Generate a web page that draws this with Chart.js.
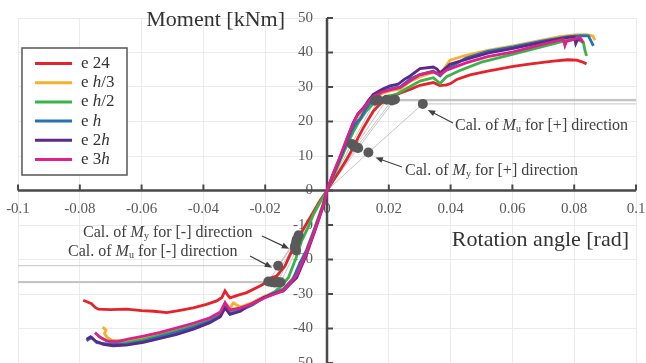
<!DOCTYPE html>
<html>
<head>
<meta charset="utf-8">
<script src="https://cdn.jsdelivr.net/npm/chart.js@4.4.1/dist/chart.umd.min.js"></script>
<style>
  html, body { margin: 0; padding: 0; background: #fff; }
  canvas { display: block; }
</style>
</head>
<body>
<canvas id="chart" width="646" height="363"></canvas>
<script>
// series: label parts ([text, italic?]) and colours
const seriesLabels = [
  [["e 24", false]],
  [["e ", false], ["h", true], ["/3", false]],
  [["e ", false], ["h", true], ["/2", false]],
  [["e ", false], ["h", true]],
  [["e 2", false], ["h", true]],
  [["e 3", false], ["h", true]],
];
const seriesColors = ["#e4232a", "#f5b02e", "#3bb34a", "#2471b5", "#5a2a8a", "#e0208a"];

// rotation angle [rad], moment [kNm]
const e24 = [
  [-0.0789, -31.8], [-0.0775, -32.3], [-0.0762, -32.8], [-0.0750, -33.9], [-0.0740, -34.4],
  [-0.0700, -34.5], [-0.0648, -34.4], [-0.0600, -34.8], [-0.0560, -35.0], [-0.0519, -35.4],
  [-0.0480, -34.8], [-0.0433, -34.0], [-0.0390, -33.0], [-0.0357, -32.0], [-0.0340, -31.0],
  [-0.0330, -29.1], [-0.0320, -30.5], [-0.0314, -31.1], [-0.0290, -30.4], [-0.0260, -29.6],
  [-0.0217, -27.7], [-0.0200, -26.8], [-0.0195, -25.7], [-0.0163, -24.8], [-0.0136, -21.9],
  [-0.0114, -17.5], [-0.0087, -12.7], [-0.0055, -7.9], [-0.0023, -3.0], [0, 0],
  [0.0020, 2.8], [0.0042, 5.9], [0.0065, 9.2], [0.0085, 12.4], [0.0100, 15.2],
  [0.0118, 18.2], [0.0135, 20.8], [0.0150, 23.0], [0.0170, 24.9], [0.0193, 26.4],
  [0.0215, 27.5], [0.0236, 28.2], [0.0269, 29.3], [0.0301, 30.5], [0.0344, 31.3],
  [0.0365, 30.4], [0.0387, 30.6], [0.0400, 31.0], [0.0420, 32.2], [0.0463, 33.5],
  [0.0520, 34.6], [0.0603, 36.0], [0.0660, 36.7], [0.0732, 37.5], [0.0780, 37.9],
  [0.0808, 37.8], [0.0825, 37.3], [0.0840, 36.7],
];
const eH3 = [
  [-0.0726, -39.6], [-0.0715, -40.5], [-0.0720, -41.5], [-0.0712, -42.5], [-0.0697, -43.4],
  [-0.0660, -43.6], [-0.0600, -43.0], [-0.0540, -41.8], [-0.0486, -40.6], [-0.0430, -39.0],
  [-0.0379, -37.4], [-0.0345, -35.8], [-0.0330, -33.2], [-0.0318, -34.6], [-0.0303, -32.6],
  [-0.0280, -33.8], [-0.0240, -32.4], [-0.0206, -30.8], [-0.0170, -29.4], [-0.0141, -28.4],
  [-0.0115, -26.0], [-0.0098, -23.8], [-0.0070, -18.3], [-0.0042, -11.5], [-0.0015, -4.5],
  [0, 0],
  [0.0020, 4.2], [0.0042, 8.8], [0.0065, 13.6], [0.0085, 17.6], [0.0105, 21.0],
  [0.0125, 23.8], [0.0150, 26.6], [0.0180, 28.2], [0.0210, 29.0], [0.0236, 29.4],
  [0.0269, 31.6], [0.0301, 33.0], [0.0344, 34.2], [0.0362, 33.8], [0.0375, 34.8],
  [0.0398, 37.8], [0.0450, 39.2], [0.0520, 40.6], [0.0603, 41.9], [0.0680, 43.3],
  [0.0754, 44.6], [0.0800, 45.1], [0.0840, 45.2], [0.0860, 44.8], [0.0867, 43.6],
];
const eH2 = [
  [-0.0740, -42.2], [-0.0725, -43.0], [-0.0700, -44.0], [-0.0650, -44.2], [-0.0594, -43.2],
  [-0.0540, -42.0], [-0.0486, -40.7], [-0.0430, -39.2], [-0.0379, -37.6], [-0.0345, -36.0],
  [-0.0330, -33.4], [-0.0314, -35.2], [-0.0280, -34.3], [-0.0240, -32.9], [-0.0206, -31.2],
  [-0.0170, -29.4], [-0.0150, -27.8], [-0.0125, -25.3], [-0.0100, -19.5], [-0.0082, -14.6],
  [-0.0060, -10.5], [-0.0044, -6.9], [-0.0020, -3.0], [0, 0],
  [0.0020, 4.0], [0.0042, 8.6], [0.0065, 13.2], [0.0085, 17.0], [0.0105, 20.2],
  [0.0125, 22.8], [0.0150, 25.3], [0.0180, 26.8], [0.0200, 27.4], [0.0225, 27.9],
  [0.0250, 29.2], [0.0301, 31.7], [0.0344, 32.7], [0.0366, 31.0], [0.0387, 33.0],
  [0.0430, 34.8], [0.0500, 37.2], [0.0603, 39.5], [0.0700, 41.8], [0.0776, 43.5],
  [0.0810, 43.9], [0.0830, 42.8], [0.0835, 40.5], [0.0840, 39.0],
];
const eH = [
  [-0.0778, -43.6], [-0.0770, -43.0], [-0.0760, -42.7], [-0.0745, -44.1], [-0.0700, -44.6],
  [-0.0650, -44.6], [-0.0594, -43.7], [-0.0540, -42.4], [-0.0486, -41.1], [-0.0430, -39.6],
  [-0.0379, -37.9], [-0.0345, -36.3], [-0.0330, -33.8], [-0.0314, -35.8], [-0.0280, -34.8],
  [-0.0240, -33.1], [-0.0206, -31.1], [-0.0170, -29.7], [-0.0141, -28.6], [-0.0110, -25.6],
  [-0.0090, -21.5], [-0.0066, -17.2], [-0.0040, -11.0], [-0.0014, -4.5], [0, 0],
  [0.0020, 4.6], [0.0042, 9.2], [0.0065, 14.2], [0.0085, 18.3], [0.0100, 20.2],
  [0.0107, 20.6], [0.0125, 23.6], [0.0150, 26.8], [0.0180, 28.8], [0.0210, 29.6],
  [0.0236, 30.0], [0.0269, 32.3], [0.0301, 33.6], [0.0344, 34.6], [0.0366, 33.2],
  [0.0387, 35.2], [0.0450, 38.4], [0.0520, 40.3], [0.0603, 41.6], [0.0700, 43.4],
  [0.0776, 44.5], [0.0820, 44.9], [0.0846, 44.8], [0.0855, 43.2], [0.0862, 41.9],
];
const e2H = [
  [-0.0778, -43.1], [-0.0765, -42.4], [-0.0750, -43.6], [-0.0724, -44.6], [-0.0692, -45.0],
  [-0.0650, -44.8], [-0.0594, -44.0], [-0.0540, -42.9], [-0.0486, -41.7], [-0.0430, -40.1],
  [-0.0379, -38.3], [-0.0345, -36.6], [-0.0330, -34.0], [-0.0314, -35.9], [-0.0280, -35.0],
  [-0.0260, -33.6], [-0.0206, -31.1], [-0.0170, -29.9], [-0.0141, -29.1], [-0.0120, -27.2],
  [-0.0098, -25.3], [-0.0066, -18.5], [-0.0039, -11.7], [-0.0012, -4.5], [0, 0],
  [0.0020, 4.8], [0.0042, 9.5], [0.0065, 15.0], [0.0085, 19.7], [0.0100, 22.2],
  [0.0118, 24.0], [0.0135, 26.2], [0.0150, 27.9], [0.0180, 29.4], [0.0204, 30.3],
  [0.0230, 30.8], [0.0250, 32.2], [0.0269, 33.2], [0.0301, 35.3], [0.0344, 35.8],
  [0.0356, 35.2], [0.0366, 34.1], [0.0385, 35.6], [0.0398, 36.6], [0.0450, 38.0],
  [0.0520, 39.8], [0.0603, 41.2], [0.0700, 43.0], [0.0776, 44.3], [0.0800, 44.5],
  [0.0805, 42.6], [0.0812, 44.0], [0.0825, 43.6],
];
const e3H = [
  [-0.0751, -41.2], [-0.0735, -42.5], [-0.0713, -43.6], [-0.0680, -43.8], [-0.0640, -43.0],
  [-0.0594, -42.2], [-0.0540, -41.1], [-0.0486, -39.8], [-0.0430, -38.4], [-0.0379, -36.9],
  [-0.0345, -35.2], [-0.0330, -32.5], [-0.0314, -34.6], [-0.0280, -34.0], [-0.0240, -32.8],
  [-0.0206, -31.3], [-0.0170, -30.0], [-0.0141, -28.9], [-0.0120, -27.0], [-0.0098, -24.6],
  [-0.0066, -18.0], [-0.0039, -11.3], [-0.0012, -4.3], [0, 0],
  [0.0020, 4.9], [0.0042, 9.8], [0.0065, 15.2], [0.0085, 19.6], [0.0100, 22.0],
  [0.0118, 23.8], [0.0135, 25.8], [0.0150, 27.3], [0.0180, 28.6], [0.0210, 29.3],
  [0.0236, 29.8], [0.0269, 31.8], [0.0301, 33.6], [0.0344, 34.4], [0.0366, 33.6],
  [0.0387, 34.9], [0.0450, 37.0], [0.0520, 38.8], [0.0603, 40.2], [0.0700, 42.4],
  [0.0765, 43.8], [0.0770, 42.0], [0.0775, 43.2], [0.0819, 44.3], [0.0830, 42.8],
];
const curves = [e24, eH3, eH2, eH, e2H, e3H];

// calculated yield / ultimate points, same series order
const myPos = [[0.0134, 11.0], [0.0080, 13.5], [0.0086, 13.0], [0.0091, 12.7], [0.0096, 12.5], [0.0101, 12.3]];
const muPos = [[0.0310, 25.1], [0.0155, 26.0], [0.0166, 26.2], [0.0193, 26.3], [0.0210, 26.1], [0.0220, 26.4]];
const myNeg = [[-0.0092, -13.0], [-0.0098, -14.2], [-0.0100, -15.0], [-0.0103, -16.0], [-0.0104, -16.6], [-0.0100, -17.4]];
const muNeg = [[-0.0158, -21.8], [-0.0190, -26.4], [-0.0178, -26.6], [-0.0168, -26.7], [-0.0160, -26.5], [-0.0150, -26.6]];

const xMin = -0.1, xMax = 0.1;
const yMin = -50, yMax = 50;
const xTickValues = [-0.1, -0.08, -0.06, -0.04, -0.02, 0, 0.02, 0.04, 0.06, 0.08, 0.1];
const xTickLabels = ["-0.1", "-0.08", "-0.06", "-0.04", "-0.02", "0", "0.02", "0.04", "0.06", "0.08", "0.1"];
const yTickValues = [-50, -40, -30, -20, -10, 0, 10, 20, 30, 40, 50];
const yTickLabels = ["-50", "-40", "-30", "-20", "-10", "0", "10", "20", "30", "40", "50"];

const SERIF = '"Liberation Serif", "DejaVu Serif", serif';
const toXY = (pts) => pts.map(([x, y]) => ({ x, y }));

function drawRuns(ctx, x, y, runs) {
  for (const r of runs) {
    ctx.font = r.font;
    ctx.fillText(r.t, x, y + (r.dy || 0));
    x += ctx.measureText(r.t).width;
  }
}

function calRuns(sub, dir) {
  return [
    { t: "Cal. of ", font: `16px ${SERIF}` },
    { t: "M", font: `italic 16px ${SERIF}` },
    { t: sub, font: `10px ${SERIF}`, dy: 3 },
    { t: ` for [${dir}] direction`, font: `16px ${SERIF}` },
  ];
}

function arrow(ctx, x1, y1, x2, y2) {
  const ang = Math.atan2(y2 - y1, x2 - x1);
  ctx.beginPath();
  ctx.moveTo(x1, y1);
  ctx.lineTo(x2 - 5 * Math.cos(ang), y2 - 5 * Math.sin(ang));
  ctx.stroke();
  ctx.beginPath();
  ctx.moveTo(x2, y2);
  ctx.lineTo(x2 - 8 * Math.cos(ang - 0.38), y2 - 8 * Math.sin(ang - 0.38));
  ctx.lineTo(x2 - 8 * Math.cos(ang + 0.38), y2 - 8 * Math.sin(ang + 0.38));
  ctx.closePath();
  ctx.fill();
}

const crossAxes = {
  id: "crossAxes",
  beforeDatasetsDraw(chart) {
    const { ctx, chartArea: a, scales: { x, y } } = chart;
    const x0 = x.getPixelForValue(0);
    const y0 = y.getPixelForValue(0);
    ctx.save();
    // tick labels
    ctx.fillStyle = "#595959";
    ctx.font = `15px ${SERIF}`;
    ctx.textAlign = "center";
    ctx.textBaseline = "middle";
    x.ticks.forEach((t, i) => ctx.fillText(xTickLabels[i], x.getPixelForValue(t.value), y0 + 19));
    ctx.textAlign = "right";
    y.ticks.forEach((t, i) => ctx.fillText(yTickLabels[i], x0 - 14, y.getPixelForValue(t.value)));
    // axis lines and inner ticks
    ctx.strokeStyle = "#4a4a4a";
    ctx.lineWidth = 2.5;
    ctx.beginPath();
    ctx.moveTo(a.left, y0);
    ctx.lineTo(a.right, y0);
    ctx.moveTo(x0, a.top);
    ctx.lineTo(x0, a.bottom);
    ctx.stroke();
    ctx.lineWidth = 2;
    ctx.beginPath();
    x.ticks.forEach((t) => {
      const px = x.getPixelForValue(t.value);
      ctx.moveTo(px, y0);
      ctx.lineTo(px, y0 - 6);
    });
    y.ticks.forEach((t) => {
      const py = y.getPixelForValue(t.value);
      ctx.moveTo(x0, py);
      ctx.lineTo(x0 + 6, py);
    });
    ctx.stroke();
    ctx.restore();
  },
  afterDatasetsDraw(chart) {
    const { ctx, scales: { x, y } } = chart;
    ctx.save();
    // axis titles
    ctx.fillStyle = "#333";
    ctx.font = `22px ${SERIF}`;
    ctx.textAlign = "right";
    ctx.textBaseline = "middle";
    ctx.fillText("Moment [kNm]", 285, 20);
    ctx.fillText("Rotation angle [rad]", 629, 240);

    // annotations
    ctx.textAlign = "left";
    ctx.fillStyle = "#404040";
    ctx.strokeStyle = "#404040";
    ctx.lineWidth = 1.2;
    drawRuns(ctx, 455, 126, calRuns("u", "+"));
    drawRuns(ctx, 405, 171, calRuns("y", "+"));
    drawRuns(ctx, 83, 233, calRuns("y", "-"));
    drawRuns(ctx, 68, 252, calRuns("u", "-"));
    const px = (p) => [x.getPixelForValue(p[0]), y.getPixelForValue(p[1])];
    let [tx, ty] = px(muPos[0]);
    arrow(ctx, 453, 123, tx + 5, ty + 6);
    [tx, ty] = px(myPos[0]);
    arrow(ctx, 402, 167, tx + 7, ty + 5);
    [tx, ty] = px(myNeg[3]);
    arrow(ctx, 262, 236, tx - 6, ty + 3);
    [tx, ty] = px(muNeg[0]);
    arrow(ctx, 250, 256, tx - 6, ty + 2);

    // legend
    ctx.fillStyle = "#fff";
    ctx.fillRect(22, 48, 105, 127);
    ctx.strokeStyle = "#555";
    ctx.lineWidth = 1.5;
    ctx.strokeRect(22, 48, 105, 127);
    ctx.textBaseline = "middle";
    seriesLabels.forEach((parts, i) => {
      const ry = 63.5 + i * 19.2;
      ctx.strokeStyle = seriesColors[i];
      ctx.lineWidth = 3;
      ctx.beginPath();
      ctx.moveTo(35, ry);
      ctx.lineTo(72, ry);
      ctx.stroke();
      ctx.fillStyle = "#333";
      drawRuns(ctx, 81, ry, parts.map(([t, it]) => ({ t, font: `${it ? "italic " : ""}17px ${SERIF}` })));
    });
    ctx.restore();
  },
};

const datasets = [];
curves.forEach((pts, i) => {
  datasets.push({
    data: toXY(pts),
    borderColor: seriesColors[i],
    borderWidth: 2.8,
    order: 6 - i,
  });
});
for (let i = 0; i < 6; i++) {
  datasets.push({
    data: toXY([[0, 0], myPos[i], muPos[i], [xMax, muPos[i][1]]]),
    borderColor: "#c4c4c4",
    borderWidth: 1,
    order: 20,
  });
  datasets.push({
    data: toXY([[0, 0], myNeg[i], muNeg[i], [xMin, muNeg[i][1]]]),
    borderColor: "#c4c4c4",
    borderWidth: 1,
    order: 20,
  });
}
datasets.push({
  data: toXY([...myPos, ...muPos, ...myNeg, ...muNeg]),
  showLine: false,
  pointRadius: 5,
  pointBackgroundColor: "#5a5a5a",
  pointBorderWidth: 0,
  order: 0,
});

new Chart(document.getElementById("chart"), {
  type: "scatter",
  data: { datasets },
  options: {
    responsive: false,
    animation: false,
    devicePixelRatio: 1,
    showLine: true,
    elements: { point: { radius: 0 }, line: { tension: 0 } },
    layout: { autoPadding: false, padding: { left: 18, right: 10, top: 18, bottom: 0 } },
    plugins: { legend: { display: false }, tooltip: { enabled: false } },
    scales: {
      x: {
        type: "linear",
        min: xMin,
        max: xMax,
        afterBuildTicks: (s) => { s.ticks = xTickValues.map((v) => ({ value: v })); },
        afterFit: (s) => { s.height = 0; },
        ticks: { display: false },
        grid: { color: "#ebebeb", drawTicks: false },
        border: { display: false },
      },
      y: {
        type: "linear",
        min: yMin,
        max: yMax,
        afterBuildTicks: (s) => { s.ticks = yTickValues.map((v) => ({ value: v })); },
        afterFit: (s) => { s.width = 0; },
        ticks: { display: false },
        grid: { color: "#ebebeb", drawTicks: false },
        border: { display: false },
      },
    },
  },
  plugins: [crossAxes],
});
</script>
</body>
</html>
